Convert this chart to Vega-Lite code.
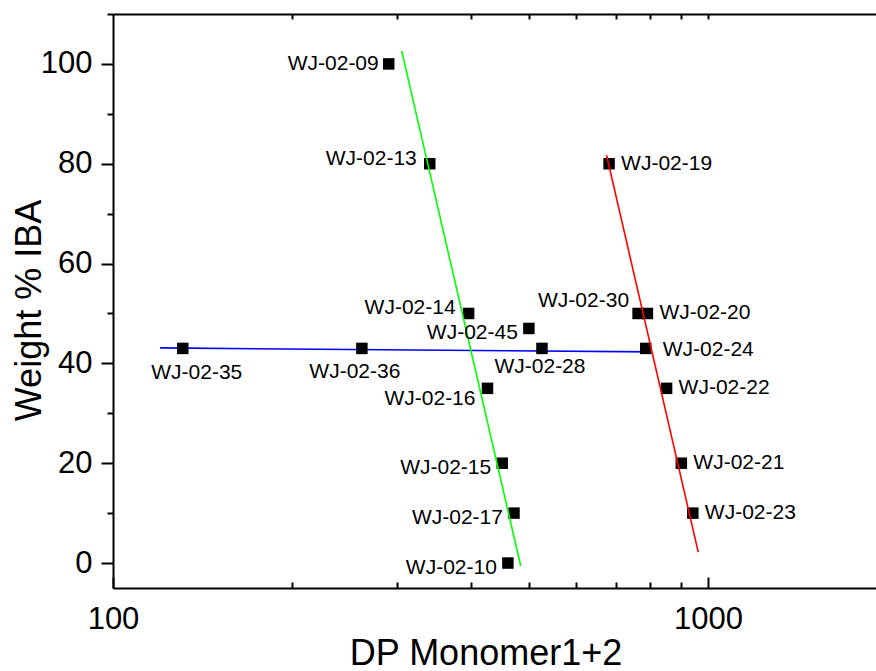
{
  "$schema": "https://vega.github.io/schema/vega-lite/v6.json",
  "width": 763,
  "height": 574,
  "autosize": {"type": "none"},
  "padding": {"left": 113, "top": 14, "right": 0, "bottom": 83},
  "background": "white",
  "config": {
    "view": {"stroke": null},
    "font": "Liberation Sans",
    "axis": {
      "grid": false,
      "domainColor": "black",
      "tickColor": "black",
      "labelColor": "black",
      "titleColor": "black",
      "domainWidth": 2,
      "tickWidth": 2,
      "labelFont": "Liberation Sans",
      "titleFont": "Liberation Sans",
      "titleFontWeight": "normal"
    }
  },
  "datasets": {
    "pts": [
      {"label": "WJ-02-09", "dp": 290.7, "iba": 100},
      {"label": "WJ-02-13", "dp": 340.7, "iba": 80},
      {"label": "WJ-02-19", "dp": 682, "iba": 80},
      {"label": "WJ-02-14", "dp": 396, "iba": 50},
      {"label": "WJ-02-30", "dp": 763, "iba": 50},
      {"label": "WJ-02-20", "dp": 791, "iba": 50},
      {"label": "WJ-02-45", "dp": 500, "iba": 47},
      {"label": "WJ-02-35", "dp": 131, "iba": 43},
      {"label": "WJ-02-36", "dp": 262, "iba": 43},
      {"label": "WJ-02-28", "dp": 526, "iba": 43},
      {"label": "WJ-02-24", "dp": 786, "iba": 43},
      {"label": "WJ-02-16", "dp": 426, "iba": 35},
      {"label": "WJ-02-22", "dp": 852, "iba": 35},
      {"label": "WJ-02-15", "dp": 451, "iba": 20},
      {"label": "WJ-02-21", "dp": 902, "iba": 20},
      {"label": "WJ-02-17", "dp": 472, "iba": 10},
      {"label": "WJ-02-23", "dp": 943, "iba": 10},
      {"label": "WJ-02-10", "dp": 461, "iba": 0}
    ],
    "fits": [
      {"fit": "Fit 1", "dp": 120, "iba": 43.1},
      {"fit": "Fit 1", "dp": 804, "iba": 42.3},
      {"fit": "Fit 2", "dp": 305.6, "iba": 102.6},
      {"fit": "Fit 2", "dp": 484.5, "iba": -0.6},
      {"fit": "Fit 3", "dp": 675.4, "iba": 81.7},
      {"fit": "Fit 3", "dp": 963, "iba": 2.2}
    ]
  },
  "resolve": {"axis": {"x": "independent", "y": "independent"}},
  "layer": [
    {
      "data": {"name": "fits"},
      "transform": [{"filter": "datum.fit == 'Fit 1'"}],
      "mark": {"type": "line", "strokeWidth": 1.6},
      "encoding": {
        "x": {"field": "dp", "type": "quantitative", "scale": {"type": "log", "domain": [100, 1916], "nice": false},
          "axis": {"orient": "bottom", "values": [200, 300, 400, 500, 600, 700, 800, 900], "labels": false, "domain": false, "tickSize": -6, "title": null}},
        "y": {"field": "iba", "type": "quantitative", "scale": {"domain": [-5, 110], "nice": false, "zero": false},
          "axis": {"orient": "left", "values": [10, 30, 50, 70, 90, 110], "labels": false, "domain": false, "tickSize": 6, "title": null}},
        "color": {"field": "fit", "type": "nominal", "scale": {"domain": ["Fit 1", "Fit 2", "Fit 3"], "range": ["#0000ff", "#00ff00", "#ff0000"]}, "legend": null}
      }
    },
    {
      "data": {"name": "pts"},
      "mark": {"type": "point", "shape": "square", "filled": true, "color": "black", "size": 132, "opacity": 1},
      "encoding": {
        "x": {"field": "dp", "type": "quantitative", "scale": {"type": "log", "domain": [100, 1916], "nice": false},
          "axis": {"orient": "bottom", "values": [100, 1000], "format": "d", "labelFontSize": 31, "labelBaseline": "alphabetic", "labelPadding": 51, "tickSize": -11, "labelFlush": false, "labelOverlap": false, "labelBound": false,
            "title": "DP Monomer1+2", "titleFontSize": 36, "titleX": 372.5, "titleY": 76, "titleAlign": "center", "titleBaseline": "alphabetic"}},
        "y": {"field": "iba", "type": "quantitative", "scale": {"domain": [-5, 110], "nice": false, "zero": false},
          "axis": {"orient": "left", "values": [0, 20, 40, 60, 80, 100], "format": "d", "labelFontSize": 31, "labelBaseline": "middle", "labelPadding": 9, "tickSize": 12, "labelOverlap": false, "labelBound": false, "labelFlush": false,
            "title": "Weight % IBA", "titleFontSize": 36, "titleX": -73, "titleY": 296, "titleAngle": 270, "titleAlign": "center", "titleBaseline": "alphabetic"}}
      }
    },
    {
      "data": {"name": "fits"},
      "transform": [{"filter": "datum.fit != 'Fit 1'"}],
      "mark": {"type": "line", "strokeWidth": 1.6},
      "encoding": {
        "x": {"field": "dp", "type": "quantitative", "scale": {"type": "log", "domain": [100, 1916], "nice": false},
          "axis": {"orient": "top", "values": [200, 300, 400, 500, 600, 700, 800, 900, 1000], "labels": false, "domain": true, "tickSize": -5, "title": null}},
        "y": {"field": "iba", "type": "quantitative", "scale": {"domain": [-5, 110], "nice": false, "zero": false}, "axis": null},
        "color": {"field": "fit", "type": "nominal", "scale": {"domain": ["Fit 1", "Fit 2", "Fit 3"], "range": ["#0000ff", "#00ff00", "#ff0000"]}, "legend": null},
        "detail": {"field": "fit"}
      }
    },
    {
      "data": {"name": "pts"},
      "transform": [{"filter": {"field": "label", "oneOf": ["WJ-02-09"]}}],
      "mark": {"type": "text", "align": "right", "baseline": "middle", "dx": -10, "dy": 0, "fontSize": 21, "font": "Liberation Sans", "color": "black"},
      "encoding": {
        "x": {"field": "dp", "type": "quantitative", "scale": {"type": "log", "domain": [100, 1916], "nice": false}, "axis": null},
        "y": {"field": "iba", "type": "quantitative", "scale": {"domain": [-5, 110], "nice": false, "zero": false}, "axis": null},
        "text": {"field": "label"}
      }
    },
    {
      "data": {"name": "pts"},
      "transform": [{"filter": {"field": "label", "oneOf": ["WJ-02-15", "WJ-02-17", "WJ-02-10", "WJ-02-45"]}}],
      "mark": {"type": "text", "align": "right", "baseline": "middle", "dx": -11, "dy": 5, "fontSize": 21, "font": "Liberation Sans", "color": "black"},
      "encoding": {
        "x": {"field": "dp", "type": "quantitative", "scale": {"type": "log", "domain": [100, 1916], "nice": false}, "axis": null},
        "y": {"field": "iba", "type": "quantitative", "scale": {"domain": [-5, 110], "nice": false, "zero": false}, "axis": null},
        "text": {"field": "label"}
      }
    },
    {
      "data": {"name": "pts"},
      "transform": [{"filter": {"field": "label", "oneOf": ["WJ-02-13", "WJ-02-14"]}}],
      "mark": {"type": "text", "align": "right", "baseline": "middle", "dx": -13, "dy": -5, "fontSize": 21, "font": "Liberation Sans", "color": "black"},
      "encoding": {
        "x": {"field": "dp", "type": "quantitative", "scale": {"type": "log", "domain": [100, 1916], "nice": false}, "axis": null},
        "y": {"field": "iba", "type": "quantitative", "scale": {"domain": [-5, 110], "nice": false, "zero": false}, "axis": null},
        "text": {"field": "label"}
      }
    },
    {
      "data": {"name": "pts"},
      "transform": [{"filter": {"field": "label", "oneOf": ["WJ-02-16"]}}],
      "mark": {"type": "text", "align": "right", "baseline": "middle", "dx": -12, "dy": 11, "fontSize": 21, "font": "Liberation Sans", "color": "black"},
      "encoding": {
        "x": {"field": "dp", "type": "quantitative", "scale": {"type": "log", "domain": [100, 1916], "nice": false}, "axis": null},
        "y": {"field": "iba", "type": "quantitative", "scale": {"domain": [-5, 110], "nice": false, "zero": false}, "axis": null},
        "text": {"field": "label"}
      }
    },
    {
      "data": {"name": "pts"},
      "transform": [{"filter": {"field": "label", "oneOf": ["WJ-02-30"]}}],
      "mark": {"type": "text", "align": "right", "baseline": "middle", "dx": -9, "dy": -12, "fontSize": 21, "font": "Liberation Sans", "color": "black"},
      "encoding": {
        "x": {"field": "dp", "type": "quantitative", "scale": {"type": "log", "domain": [100, 1916], "nice": false}, "axis": null},
        "y": {"field": "iba", "type": "quantitative", "scale": {"domain": [-5, 110], "nice": false, "zero": false}, "axis": null},
        "text": {"field": "label"}
      }
    },
    {
      "data": {"name": "pts"},
      "transform": [{"filter": {"field": "label", "oneOf": ["WJ-02-19", "WJ-02-20", "WJ-02-22", "WJ-02-21", "WJ-02-23"]}}],
      "mark": {"type": "text", "align": "left", "baseline": "middle", "dx": 12, "dy": 0, "fontSize": 21, "font": "Liberation Sans", "color": "black"},
      "encoding": {
        "x": {"field": "dp", "type": "quantitative", "scale": {"type": "log", "domain": [100, 1916], "nice": false}, "axis": null},
        "y": {"field": "iba", "type": "quantitative", "scale": {"domain": [-5, 110], "nice": false, "zero": false}, "axis": null},
        "text": {"field": "label"}
      }
    },
    {
      "data": {"name": "pts"},
      "transform": [{"filter": {"field": "label", "oneOf": ["WJ-02-24"]}}],
      "mark": {"type": "text", "align": "left", "baseline": "middle", "dx": 17, "dy": 2, "fontSize": 21, "font": "Liberation Sans", "color": "black"},
      "encoding": {
        "x": {"field": "dp", "type": "quantitative", "scale": {"type": "log", "domain": [100, 1916], "nice": false}, "axis": null},
        "y": {"field": "iba", "type": "quantitative", "scale": {"domain": [-5, 110], "nice": false, "zero": false}, "axis": null},
        "text": {"field": "label"}
      }
    },
    {
      "data": {"name": "pts"},
      "transform": [{"filter": {"field": "label", "oneOf": ["WJ-02-35"]}}],
      "mark": {"type": "text", "align": "center", "baseline": "middle", "dx": 14, "dy": 25, "fontSize": 21, "font": "Liberation Sans", "color": "black"},
      "encoding": {
        "x": {"field": "dp", "type": "quantitative", "scale": {"type": "log", "domain": [100, 1916], "nice": false}, "axis": null},
        "y": {"field": "iba", "type": "quantitative", "scale": {"domain": [-5, 110], "nice": false, "zero": false}, "axis": null},
        "text": {"field": "label"}
      }
    },
    {
      "data": {"name": "pts"},
      "transform": [{"filter": {"field": "label", "oneOf": ["WJ-02-36"]}}],
      "mark": {"type": "text", "align": "center", "baseline": "middle", "dx": -7, "dy": 24, "fontSize": 21, "font": "Liberation Sans", "color": "black"},
      "encoding": {
        "x": {"field": "dp", "type": "quantitative", "scale": {"type": "log", "domain": [100, 1916], "nice": false}, "axis": null},
        "y": {"field": "iba", "type": "quantitative", "scale": {"domain": [-5, 110], "nice": false, "zero": false}, "axis": null},
        "text": {"field": "label"}
      }
    },
    {
      "data": {"name": "pts"},
      "transform": [{"filter": {"field": "label", "oneOf": ["WJ-02-28"]}}],
      "mark": {"type": "text", "align": "center", "baseline": "middle", "dx": -2, "dy": 19, "fontSize": 21, "font": "Liberation Sans", "color": "black"},
      "encoding": {
        "x": {"field": "dp", "type": "quantitative", "scale": {"type": "log", "domain": [100, 1916], "nice": false}, "axis": null},
        "y": {"field": "iba", "type": "quantitative", "scale": {"domain": [-5, 110], "nice": false, "zero": false}, "axis": null},
        "text": {"field": "label"}
      }
    }
  ]
}
